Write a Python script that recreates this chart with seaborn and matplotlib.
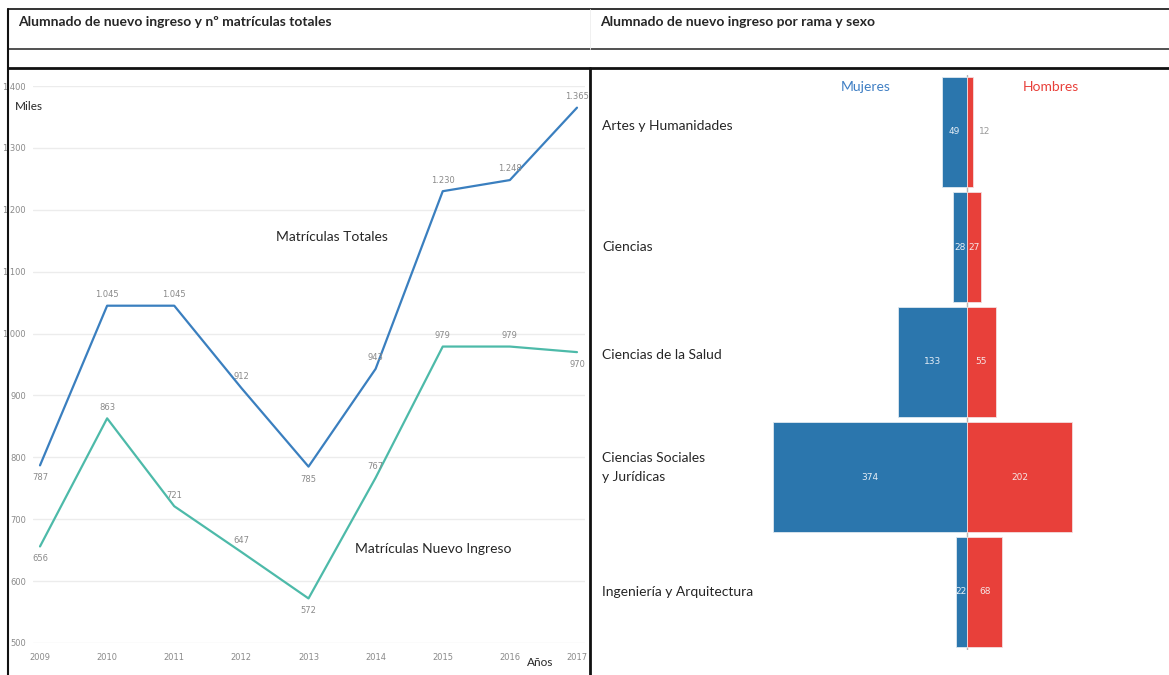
import matplotlib
matplotlib.use("Agg")
import matplotlib.pyplot as plt
from matplotlib.lines import Line2D
import seaborn as sns
import pandas as pd

# data
years = [2009, 2010, 2011, 2012, 2013, 2014, 2015, 2016, 2017]
totales = [787, 1045, 1045, 912, 785, 943, 1230, 1248, 1365]
nuevo_ingreso = [656, 863, 721, 647, 572, 767, 979, 979, 970]

ramas = ["Artes y Humanidades", "Ciencias", "Ciencias de la Salud",
         "Ciencias Sociales\ny Jurídicas", "Ingeniería y Arquitectura"]
mujeres = [49, 28, 133, 374, 22]
hombres = [12, 27, 55, 202, 68]

W, H = 1169, 675
BLUE_LINE = "#3a7fbf"
TEAL_LINE = "#4dbaa9"
BAR_BLUE = "#2b76ad"
BAR_RED = "#e8403a"

sns.set_theme(style="white")
plt.rcParams["font.family"] = ["Lato", "DejaVu Sans"]
NARROW = ["Liberation Sans Narrow", "DejaVu Sans"]


def fx(px):
    return px / W


def fy(py):
    return 1 - py / H


fig = plt.figure(figsize=(11.69, 6.75), dpi=100)
fig.patch.set_facecolor("white")

# ---- frame lines
def hline(y, x0, x1, lw, color="#111111"):
    fig.add_artist(Line2D([fx(x0), fx(x1)], [fy(y), fy(y)], color=color, lw=lw))


def vline(x, y0, y1, lw, color="#111111"):
    fig.add_artist(Line2D([fx(x), fx(x)], [fy(y0), fy(y1)], color=color, lw=lw))


hline(9, 8, W, 1.2)
hline(49, 8, W, 1.2, "#333333")
hline(68, 8, W, 2.0)
vline(8, 9, H, 1.5)
vline(590, 9, 49, 0.6, "#eeeeee")
vline(590, 68, H, 2.0)

fig.text(fx(18), fy(22), "Alumnado de nuevo ingreso y nº matrículas totales",
         fontsize=10, fontweight="bold", va="center", ha="left")
fig.text(fx(600), fy(22), "Alumnado de nuevo ingreso por rama y sexo",
         fontsize=10, fontweight="bold", va="center", ha="left")

# ---- left chart: lines
ax1 = fig.add_axes([fx(33), fy(643), fx(585) - fx(33), fy(86) - fy(643)])
df = pd.DataFrame({"year": years * 2,
                   "value": totales + nuevo_ingreso,
                   "serie": ["Totales"] * len(years) + ["Nuevo"] * len(years)})
sns.lineplot(data=df, x="year", y="value", hue="serie",
             palette={"Totales": BLUE_LINE, "Nuevo": TEAL_LINE},
             lw=1.6, legend=False, ax=ax1)
ax1.set_xlim(2009 - 7 / 67.1, 2017 + 8 / 67.1)
ax1.set_ylim(500, 1400)
ax1.set_yticks(range(500, 1401, 100))
ax1.set_yticklabels([f"{v:,}".replace(",", ".") for v in range(500, 1401, 100)])
ax1.set_xticks(years)
ax1.set_xticklabels([str(y) for y in years])
for lab in ax1.get_xticklabels() + ax1.get_yticklabels():
    lab.set_fontfamily(NARROW)
    lab.set_fontsize(6)
    lab.set_color("#8a8a8a")
ax1.tick_params(axis="y", pad=5, length=0)
ax1.tick_params(axis="x", pad=7, length=0)
ax1.grid(axis="y", color="#ececec", lw=1)
ax1.grid(axis="x", visible=False)
for s in ax1.spines.values():
    s.set_visible(False)
ax1.set_xlabel("")
ax1.set_ylabel("")


def label_series(vals):
    for i, (x, v) in enumerate(zip(years, vals)):
        nbrs = [vals[j] for j in (i - 1, i + 1) if 0 <= j < len(vals)]
        below = all(v < n for n in nbrs)
        ax1.annotate(f"{v:,}".replace(",", "."), (x, v),
                     xytext=(0, -9 if below else 8), textcoords="offset points",
                     ha="center", va="center", fontsize=6, color="#8a8a8a",
                     family=NARROW)


label_series(totales)
label_series(nuevo_ingreso)

ax1.text(2012.52, 1156, "Matrículas Totales", fontsize=10, va="center", ha="left")
ax1.text(2013.69, 652, "Matrículas Nuevo Ingreso", fontsize=10, va="center", ha="left")
fig.text(fx(15), fy(107), "Miles", fontsize=8.5, va="center", ha="left")
fig.text(fx(527), fy(662), "Años", fontsize=8.5, va="center", ha="left")

# ---- right chart: pyramid
ax2 = fig.add_axes([fx(593), fy(649.5), fx(W) - fx(593), fy(74.5) - fy(649.5)])
bars = pd.DataFrame({"rama": ramas, "m": [-v for v in mujeres], "h": hombres})
sns.barplot(data=bars, y="rama", x="m", color=BAR_BLUE, saturation=1, width=0.957,
            edgecolor="#dfe8f0", linewidth=0.6, orient="h", ax=ax2)
sns.barplot(data=bars, y="rama", x="h", color=BAR_RED, saturation=1, width=0.957,
            edgecolor="#f3dede", linewidth=0.6, orient="h", ax=ax2)
ax2.set_xlim(-719, 388)
ax2.set_ylim(4.5, -0.5)
ax2.axvline(0, color="#b5b5b5", lw=1, zorder=0)
ax2.set_xticks([])
ax2.set_yticks([])
ax2.set_xlabel("")
ax2.set_ylabel("")
for s in ax2.spines.values():
    s.set_visible(False)

# category labels sit a little above the bar centre in the original
label_shift = [4, 0, 5, 7, 0]
for i, (m, h) in enumerate(zip(mujeres, hombres)):
    ax2.text(-m / 2, i, str(m), ha="center", va="center", fontsize=6.5,
             color="#e6eef6", family=NARROW)
    if h < 15:
        ax2.text(h + 10, i, str(h), ha="left", va="center", fontsize=6.5,
                 color="#9a9a9a", family=NARROW)
    else:
        ax2.text(h / 2, i, str(h), ha="center", va="center", fontsize=6.5,
                 color="#f6e6e6", family=NARROW)
    ax2.annotate(ramas[i], (0.016, i), xycoords=ax2.get_yaxis_transform(),
                 xytext=(0, label_shift[i]), textcoords="offset points",
                 ha="left", va="center", fontsize=10, linespacing=1.75)

fig.text(fx(866), fy(87), "Mujeres", color="#3f7fc4", fontsize=10, ha="center", va="center")
fig.text(fx(1051), fy(87), "Hombres", color="#e8403a", fontsize=10, ha="center", va="center")

fig.savefig("out.png", dpi=100, facecolor="white")
